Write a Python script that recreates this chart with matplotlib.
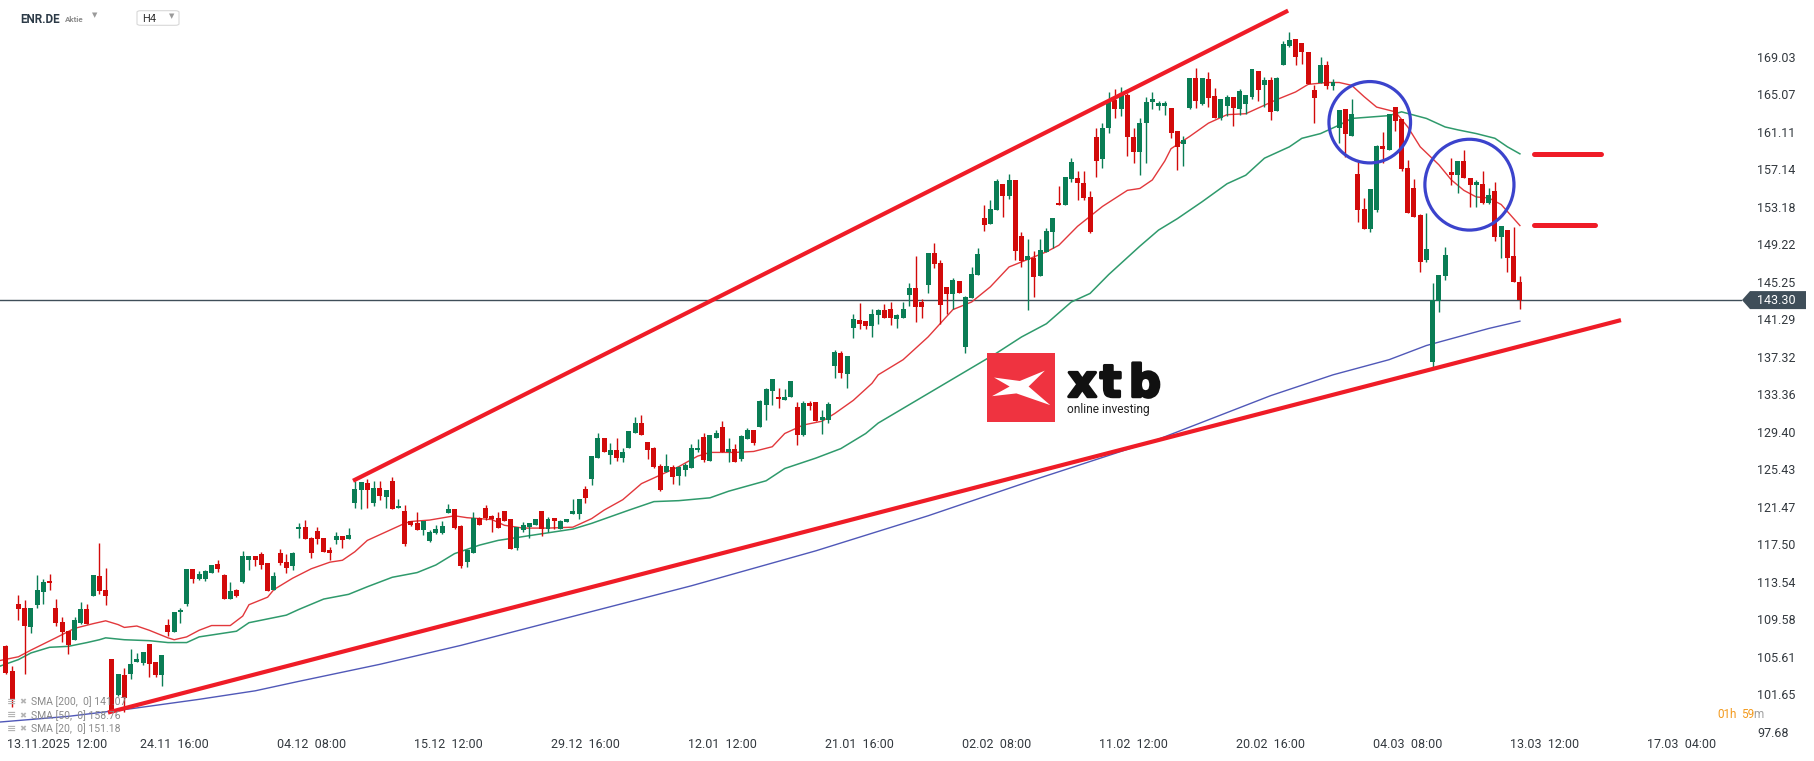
import numpy as np
import matplotlib.pyplot as plt
from matplotlib import transforms
from matplotlib import patheffects as pe
from matplotlib.patches import Ellipse, Polygon, FancyBboxPatch, Rectangle

plt.rcParams['font.family'] = ['Roboto', 'DejaVu Sans']

# --- chart data (ENR.DE, H4 candles) ---------------------------------------
opens = [
    106.7, 104.1, 111.2, 110.8, 108.7, 111.1, 112.4, 113.6, 110.8, 109.3,
    108.3, 107.4, 109.2, 110.6, 112.0, 114.1, 112.7, 105.4, 101.6, 103.7,
    103.8, 105.0, 104.9, 106.9, 105.0, 103.7, 109.0, 108.2, 110.3, 111.2,
    114.9, 113.8, 113.8, 114.5, 115.4, 114.2, 111.7, 112.7, 113.5, 115.8,
    116.3, 116.5, 115.5, 112.7, 116.6, 115.6, 115.2, 119.1, 119.3, 118.2,
    118.9, 118.2, 116.9, 117.9, 118.4, 118.0, 121.8, 123.2, 124.0, 121.9,
    123.4, 122.5, 124.2, 121.3, 121.0, 119.9, 119.7, 119.0, 117.8, 118.7,
    118.7, 120.8, 121.2, 119.4, 115.6, 116.6, 120.3, 121.3, 120.5, 120.3,
    121.0, 120.2, 117.1, 119.0, 119.3, 119.5, 121.0, 119.1, 120.3, 119.1,
    119.8, 120.7, 120.7, 123.3, 124.4, 126.6, 128.7, 126.9, 127.5, 126.6,
    127.7, 129.3, 130.3, 128.3, 127.7, 125.8, 125.1, 125.7, 124.7, 125.3,
    125.6, 127.5, 128.8, 126.3, 128.7, 129.9, 127.2, 127.6, 126.5, 128.6,
    129.6, 129.9, 132.2, 133.7, 133.1, 132.7, 133.1, 132.0, 129.0, 132.4,
    132.5, 130.6, 130.6, 136.3, 137.7, 135.5, 140.4, 141.2, 141.1, 140.6,
    141.7, 142.2, 142.4, 141.3, 141.4, 143.8, 144.6, 143.1, 144.9, 148.3,
    147.2, 144.7, 143.9, 145.3, 138.3, 143.5, 145.9, 152.0, 151.3, 152.8,
    155.6, 154.3, 156.0, 150.1, 147.5, 147.7, 145.8, 148.4, 150.5, 153.6,
    153.3, 156.1, 156.2, 155.7, 154.2, 160.5, 158.2, 161.5, 164.5, 163.5,
    165.0, 160.5, 159.0, 162.0, 164.2, 163.8, 163.8, 163.6, 161.2, 159.8,
    163.6, 166.8, 164.0, 166.7, 164.9, 162.6, 163.8, 164.8, 163.5, 164.0,
    164.8, 167.5, 166.0, 166.6, 163.3, 168.1, 170.2, 170.9, 170.5, 169.5,
    165.5, 166.2, 168.2, 165.9, 161.5, 163.5, 160.6, 156.6, 152.9, 150.8,
    152.8, 159.6, 159.2, 163.7, 162.4, 157.3, 155.1, 152.3, 147.5, 136.8,
    143.2, 145.8, 156.8, 156.5, 158.0, 156.2, 155.5, 155.6, 153.6, 154.8,
    150.0, 150.7, 148.0, 145.2,
]
highs = [
    106.8, 104.6, 112.1, 111.6, 110.8, 114.2, 113.8, 114.3, 111.7, 109.8,
    108.3, 109.8, 111.4, 111.2, 114.2, 117.6, 115.0, 105.4, 103.8, 104.4,
    106.4, 106.0, 106.1, 106.9, 105.0, 105.8, 109.6, 110.3, 110.8, 114.9,
    114.9, 114.7, 114.8, 115.3, 115.8, 114.3, 113.5, 112.8, 116.8, 116.3,
    116.3, 116.7, 115.5, 114.6, 117.0, 116.5, 116.7, 119.7, 120.1, 118.3,
    119.3, 118.2, 117.2, 118.8, 118.4, 119.2, 124.2, 124.1, 124.4, 124.2,
    124.2, 123.2, 124.6, 122.3, 121.6, 119.9, 120.9, 119.9, 119.0, 119.5,
    119.9, 121.7, 121.2, 119.5, 116.9, 120.9, 120.4, 121.6, 120.6, 120.9,
    121.0, 120.2, 119.3, 119.8, 119.7, 120.2, 121.0, 120.4, 120.3, 120.1,
    120.2, 122.3, 122.3, 123.6, 126.8, 129.2, 128.7, 128.2, 128.7, 127.7,
    129.5, 130.9, 131.2, 128.3, 127.8, 126.0, 127.0, 125.9, 125.8, 126.1,
    128.1, 128.6, 129.3, 129.0, 129.6, 130.5, 128.7, 128.1, 129.0, 129.8,
    129.6, 132.7, 134.0, 135.0, 134.0, 133.9, 134.7, 132.5, 132.6, 132.6,
    132.5, 131.7, 132.5, 138.0, 137.9, 137.4, 141.8, 143.0, 141.1, 142.4,
    142.4, 142.9, 143.1, 141.8, 143.1, 145.1, 148.0, 143.4, 148.3, 149.3,
    147.5, 144.7, 145.6, 145.3, 143.7, 146.8, 148.8, 153.4, 153.9, 156.1,
    155.6, 156.6, 156.0, 150.5, 149.8, 148.5, 149.8, 150.9, 152.0, 155.4,
    156.3, 158.3, 156.9, 156.9, 154.8, 161.5, 162.0, 165.3, 165.6, 165.8,
    165.2, 161.5, 162.5, 164.8, 165.3, 164.3, 164.3, 163.6, 161.2, 160.6,
    166.8, 167.8, 166.8, 167.4, 165.7, 164.6, 165.0, 164.8, 165.6, 165.0,
    167.7, 167.5, 166.9, 166.9, 166.9, 170.7, 171.6, 170.9, 170.5, 169.5,
    166.0, 169.0, 168.6, 166.7, 163.4, 163.5, 164.6, 157.9, 154.1, 155.0,
    159.7, 161.1, 163.0, 163.7, 162.4, 158.1, 156.1, 152.4, 152.5, 145.1,
    146.0, 148.9, 158.3, 158.0, 159.2, 156.2, 156.0, 156.9, 155.2, 155.8,
    151.1, 150.7, 151.0, 145.8,
]
lows = [
    103.8, 100.3, 109.5, 103.8, 108.1, 110.8, 111.2, 112.7, 108.9, 107.2,
    105.9, 107.4, 109.1, 109.1, 112.0, 112.2, 111.1, 99.8, 101.4, 99.8,
    103.3, 105.0, 104.7, 103.5, 103.5, 102.5, 107.8, 108.2, 109.2, 111.0,
    113.4, 113.7, 113.6, 114.5, 114.6, 111.7, 111.7, 111.9, 113.4, 114.8,
    115.2, 114.9, 112.6, 112.7, 115.3, 114.5, 114.8, 118.2, 118.0, 116.0,
    117.5, 116.7, 115.8, 117.5, 117.1, 118.0, 121.3, 121.2, 121.3, 121.5,
    122.2, 121.3, 121.2, 121.3, 117.3, 119.4, 119.0, 118.5, 117.7, 118.6,
    118.6, 120.8, 119.1, 115.0, 115.1, 116.6, 119.5, 120.1, 118.8, 119.2,
    120.0, 117.0, 116.9, 118.8, 118.2, 119.5, 118.4, 118.8, 119.1, 119.1,
    119.8, 120.7, 120.2, 121.9, 123.8, 126.6, 127.2, 126.0, 126.3, 126.2,
    127.7, 129.3, 129.0, 126.5, 125.6, 123.1, 125.1, 123.9, 123.8, 124.7,
    125.5, 127.2, 126.2, 126.3, 128.7, 127.2, 126.2, 126.2, 126.3, 128.6,
    128.0, 129.9, 130.6, 132.2, 131.9, 132.7, 133.1, 128.0, 128.9, 131.7,
    130.5, 129.1, 130.3, 135.1, 135.1, 134.0, 139.3, 140.2, 140.2, 139.4,
    140.8, 141.4, 140.7, 140.4, 141.4, 142.7, 141.0, 141.4, 144.0, 146.7,
    140.8, 141.8, 142.4, 144.1, 137.7, 143.5, 145.9, 150.6, 151.3, 152.8,
    152.1, 154.0, 147.5, 146.8, 142.2, 143.6, 145.8, 148.4, 148.8, 153.3,
    153.3, 155.8, 153.9, 153.9, 150.4, 156.3, 157.3, 161.0, 162.5, 162.8,
    158.5, 157.8, 156.5, 157.8, 163.5, 163.4, 162.9, 160.4, 157.1, 157.5,
    163.5, 163.6, 163.9, 163.7, 162.6, 162.3, 162.8, 161.7, 162.9, 163.0,
    164.6, 164.3, 163.7, 162.3, 163.3, 168.1, 170.0, 168.1, 168.3, 166.1,
    162.0, 166.2, 165.6, 165.5, 159.9, 158.4, 160.6, 151.6, 150.8, 150.5,
    152.6, 157.8, 159.2, 161.2, 156.9, 152.5, 152.1, 146.3, 147.3, 136.1,
    142.0, 145.4, 155.5, 154.6, 156.2, 153.1, 153.1, 153.5, 153.5, 149.5,
    147.7, 146.3, 145.2, 142.4,
]
closes = [
    103.9, 101.0, 110.6, 108.8, 110.8, 112.7, 113.5, 113.4, 109.2, 108.2,
    106.8, 109.5, 110.7, 109.1, 114.2, 112.6, 112.0, 99.9, 103.8, 101.2,
    104.8, 105.4, 106.1, 104.8, 103.7, 105.8, 108.2, 110.3, 110.5, 114.9,
    113.8, 114.3, 114.7, 115.3, 114.9, 111.7, 112.6, 112.0, 116.2, 116.2,
    115.8, 115.3, 112.6, 114.1, 115.5, 115.0, 116.6, 119.3, 118.1, 116.6,
    118.1, 116.7, 116.6, 118.4, 117.9, 118.5, 123.3, 124.1, 123.2, 123.4,
    122.6, 123.2, 121.2, 121.5, 117.5, 119.5, 119.0, 119.9, 118.8, 119.1,
    119.4, 121.2, 119.2, 115.2, 116.9, 120.3, 119.5, 120.3, 120.2, 119.2,
    120.0, 117.0, 119.3, 119.5, 119.7, 120.2, 119.1, 120.2, 120.0, 119.9,
    120.2, 121.0, 122.3, 122.4, 126.8, 128.7, 127.2, 127.5, 126.6, 127.2,
    129.5, 130.3, 129.0, 127.5, 125.7, 123.2, 125.8, 124.6, 125.7, 125.9,
    127.7, 127.7, 126.4, 129.0, 129.3, 127.2, 127.6, 126.2, 128.9, 129.6,
    128.2, 132.6, 133.9, 135.0, 132.8, 133.1, 134.7, 129.0, 132.4, 132.1,
    130.5, 130.9, 132.3, 137.8, 135.6, 137.4, 141.3, 140.8, 140.6, 141.8,
    142.3, 141.4, 141.4, 141.7, 142.4, 144.6, 142.6, 142.6, 148.3, 147.1,
    142.8, 143.9, 145.4, 144.1, 143.6, 146.1, 148.2, 151.2, 152.9, 155.9,
    154.3, 156.0, 148.5, 147.4, 148.0, 145.7, 148.6, 150.6, 152.0, 153.4,
    156.3, 157.9, 155.7, 154.1, 150.5, 158.0, 161.5, 164.5, 163.5, 165.0,
    160.5, 159.0, 162.0, 164.2, 164.6, 164.1, 164.1, 161.0, 159.5, 160.2,
    166.8, 164.3, 166.8, 164.7, 162.6, 164.6, 164.8, 163.6, 165.4, 165.0,
    167.7, 165.5, 166.6, 163.2, 166.8, 170.4, 170.8, 169.0, 169.5, 166.1,
    164.7, 168.2, 165.9, 166.4, 163.4, 160.9, 163.0, 152.8, 150.8, 155.0,
    159.6, 159.3, 163.0, 162.2, 157.2, 152.5, 152.1, 147.3, 148.7, 143.3,
    146.0, 148.1, 156.5, 158.0, 156.2, 155.5, 155.8, 153.6, 154.4, 150.0,
    151.1, 147.8, 145.2, 143.3,
]

# moving averages (candle index, value)
sma20_idx = [-1, 2, 4, 8, 11, 14, 16, 18, 19, 21, 23, 26, 27, 29, 31, 33, 36, 38, 39, 42,
             43, 46, 49, 52, 54, 56, 58, 61, 64, 65, 68, 72, 74, 78, 80, 83, 87, 91, 94, 96,
             99, 102, 105, 108, 111, 113, 117, 120, 123, 125, 128, 131, 133, 136, 139, 140,
             144, 148, 152, 155, 158, 161, 164, 167, 169, 172, 176, 180, 182, 184, 186, 187,
             190, 193, 196, 199, 201, 204, 207, 209, 212, 214, 216, 218, 220, 223, 225, 227,
             230, 232, 234, 236, 238, 240, 243]
sma20_val = [105.2, 105.6, 106.3, 107.6, 108.6, 109.1, 109.4, 109.0, 108.7, 108.85, 108.4,
             107.6, 107.4, 107.7, 108.4, 108.9, 108.9, 109.9, 111.1, 111.9, 112.7, 113.9,
             114.9, 115.6, 115.8, 116.7, 117.9, 118.8, 119.7, 119.9, 120.05, 120.5, 120.3,
             120.1, 119.5, 119.2, 119.2, 119.3, 120.2, 121.1, 122.2, 123.9, 124.8, 125.7,
             126.8, 127.2, 127.2, 127.3, 127.8, 129.2, 130.1, 130.5, 131.3, 132.7, 134.5,
             135.4, 137.0, 139.4, 142.3, 143.1, 144.7, 146.8, 147.6, 148.4, 149.1, 151.1,
             153.2, 154.9, 155.1, 156.0, 158.0, 159.3, 160.6, 162.0, 162.9, 163.0, 163.6,
             164.5, 165.3, 166.1, 166.3, 166.3, 166.0, 164.8, 163.7, 163.2, 161.6, 159.5,
             157.6, 156.0, 154.9, 154.2, 154.1, 153.4, 151.18]

sma50_idx = [-1, 2, 4, 7, 10, 13, 15, 16, 19, 23, 26, 29, 31, 34, 37, 39, 42, 45, 47, 51,
             55, 58, 62, 66, 69, 72, 76, 79, 83, 87, 91, 94, 100, 104, 108, 113, 116, 122,
             125, 130, 134, 138, 140, 159, 163, 167, 171, 174, 177, 182, 185, 188, 192, 196,
             199, 202, 206, 208, 211, 214, 216, 218, 222, 224, 228, 231, 233, 236, 239, 241,
             243]
sma50_val = [104.6, 105.3, 106.0, 106.6, 106.7, 107.1, 107.4, 107.6, 107.4, 107.3, 107.1,
             107.1, 107.7, 108.0, 108.3, 109.2, 109.6, 110.0, 110.6, 111.7, 112.2, 113.0,
             114.0, 114.5, 115.3, 116.5, 117.4, 117.9, 118.3, 118.7, 119.1, 119.7, 121.1,
             122.0, 122.1, 122.4, 123.1, 124.2, 125.5, 126.6, 127.6, 129.2, 130.3, 137.7,
             139.4, 140.8, 143.1, 144.0, 146.0, 149.0, 150.7, 151.9, 153.7, 155.6, 156.5,
             158.3, 159.5, 160.4, 160.9, 161.8, 162.5, 162.6, 162.8, 163.2, 162.5, 161.6,
             161.3, 160.9, 160.4, 159.5, 158.76]

sma200_idx = [-1, 10, 20, 31, 40, 47, 60, 73, 90, 110, 130, 148, 165, 185, 203, 213, 222,
              228, 233, 238, 243]
sma200_val = [98.7, 99.3, 100.1, 101.1, 102.0, 103.0, 104.8, 106.8, 109.7, 113.1, 116.8,
              120.5, 124.3, 128.6, 133.2, 135.4, 137.0, 138.5, 139.4, 140.3, 141.07]

# drawn trend lines / levels
upper_line_idx = [56.0, 205.5]
upper_line_val = [124.3, 173.8]
lower_line_idx = [16.7, 258.9]
lower_line_val = [99.76, 141.13]
level_idx = [[245.3, 256.0], [245.3, 255.1]]
level_val = [158.7, 151.2]
circle_centers = [(218.9, 162.1), (234.9, 155.5)]
circle_sizes = [(13.1, 8.6), (14.3, 9.6)]

current_price = 143.30
ytick_vals = [169.03, 165.07, 161.11, 157.14, 153.18, 149.22, 145.25, 141.29, 137.32, 133.36,
              129.40, 125.43, 121.47, 117.50, 113.54, 109.58, 105.61, 101.65, 97.68]
xtick_idx = [5, 27, 49, 71, 93, 115, 137, 159, 181, 203, 225, 247, 269]
xtick_lbl = ['13.11.2025  12:00', '24.11  16:00', '04.12  08:00', '15.12  12:00',
             '29.12  16:00', '12.01  12:00', '21.01  16:00', '02.02  08:00', '11.02  12:00',
             '20.02  16:00', '04.03  08:00', '13.03  12:00', '17.03  04:00']
sma_legend = ['SMA [200,  0] 141.07', 'SMA [50,  0] 158.76', 'SMA [20,  0] 151.18']

GREEN = '#0a7d55'
RED = '#d20a0a'
LINE_RED = '#ef1c27'
TEXT = '#33393f'

W, H = 1815, 761


def fx(x):
    return x / W


def fy(y):
    return 1 - y / H


fig = plt.figure(figsize=(W / 100, H / 100), dpi=100)
ax = fig.add_axes([0, fy(735), fx(1742), 1 - fy(735)])
ax.set_xlim(-0.96, 278.65)
ax.set_ylim(97.33, 175.02)
for s in ax.spines.values():
    s.set_visible(False)

# moving averages
ax.plot(sma200_idx, sma200_val, color='#5058b8', lw=1.0, zorder=2)
ax.plot(sma50_idx, sma50_val, color='#2f9a6c', lw=1.1, zorder=2)
ax.plot(sma20_idx, sma20_val, color='#e2383c', lw=1.0, zorder=2)

# candles
o = np.array(opens)
h = np.array(highs)
l = np.array(lows)
c = np.array(closes)
idx = np.arange(len(c))
cols = np.where(c >= o, GREEN, RED)
ax.vlines(idx, l, h, colors=cols, lw=1.0, zorder=3)
body_lo = np.minimum(o, c)
body_h = np.maximum(np.abs(c - o), 0.12)
ax.bar(idx, body_h, bottom=body_lo, width=0.8, color=cols, linewidth=0, zorder=4)

# trend lines, levels, circles
ax.plot(upper_line_idx, upper_line_val, color=LINE_RED, lw=3.0, zorder=5)
ax.plot(lower_line_idx, lower_line_val, color=LINE_RED, lw=3.0, zorder=5)
for xs, v in zip(level_idx, level_val):
    ax.plot(xs, [v, v], color=LINE_RED, lw=3.6, solid_capstyle='round', zorder=5)
for (cx, cy), (w, hh) in zip(circle_centers, circle_sizes):
    ax.add_patch(Ellipse((cx, cy), w, hh, fill=False, ec='#3b43cc', lw=2.3, zorder=6))

ax.axhline(current_price, color='#3f4e59', lw=1.0, zorder=1)

# axes ticks
ax.yaxis.tick_right()
ax.set_yticks(ytick_vals)
ax.set_yticklabels([f'{v:.2f}' for v in ytick_vals])
ax.tick_params(axis='y', length=0, pad=11, labelsize=9, labelcolor=TEXT)
ax.set_xticks([])
for i, (t, lbl) in enumerate(zip(xtick_idx, xtick_lbl)):
    ax.annotate(lbl, xy=(t, 0), xycoords=('data', 'axes fraction'),
                xytext=(-21.6 if i == 0 else 0, -7), textcoords='offset points',
                ha='left' if i == 0 else 'center', va='center', fontsize=9, color=TEXT,
                annotation_clip=False)

# current price tag
tr = transforms.blended_transform_factory(fig.transFigure, ax.transData)
dh = 9 / 9.46
ax.add_artist(Polygon([(fx(1742), current_price), (fx(1750), current_price + dh),
                       (fx(1806), current_price + dh), (fx(1806), current_price - dh),
                       (fx(1750), current_price - dh)],
                      closed=True, fc='#3f4e59', ec='none', transform=tr, clip_on=False))
ax.text(fx(1757), current_price, f'{current_price:.2f}', transform=tr, color='white',
        fontsize=9, va='center', ha='left', clip_on=False)

# header
fig.text(fx(20), fy(19.5), 'ENR.DE', fontsize=8.4, weight='bold', color='#2c3a47', va='center')
fig.text(fx(65), fy(20), 'Aktie', fontsize=5.8, weight='bold', color='#8c8c8c', va='center')
fig.text(fx(95), fy(15.5), '▼', fontsize=5, color='#9a9a9a', va='center', ha='center',
         family=['DejaVu Sans'])
fig.add_artist(FancyBboxPatch((fx(137), fy(25.3)), fx(42), 14.6 / H,
                              boxstyle='round,pad=0,rounding_size=0.002',
                              fc='white', ec='#d8d8d8', lw=0.8, transform=fig.transFigure))
fig.text(fx(142), fy(19.5), 'H4', fontsize=8, color='#333', va='center')
fig.text(fx(171.5), fy(16.5), '▼', fontsize=5, color='#9a9a9a', va='center', ha='center',
         family=['DejaVu Sans'])

# SMA legend
for k, s in enumerate(sma_legend):
    yy = 701.7 + k * 13.6
    fig.text(fx(6.5), fy(yy), '≡', fontsize=8, color='#b4b4b4', va='center',
             family=['DejaVu Sans'], weight='bold')
    fig.text(fx(19.5), fy(yy), '✖', fontsize=6, color='#b4b4b4', va='center',
             family=['DejaVu Sans'])
    fig.text(fx(31), fy(yy), s, fontsize=7.5, color='#8a8a8a', va='center')

# candle countdown
ty = 714
fig.text(fx(1717), fy(ty), '01', fontsize=8.5, color='#f39a1e', va='center')
fig.text(fx(1729.5), fy(ty), 'h', fontsize=8.5, color='#f39a1e', va='center')
fig.text(fx(1741), fy(ty), '59', fontsize=8.5, color='#f39a1e', va='center')
fig.text(fx(1753.5), fy(ty), 'm', fontsize=8.5, color='#a0a0a0', va='center')

# xtb logo
lax = fig.add_axes([fx(987.3), fy(421.7), fx(67.7), 69 / H])
lax.set_xlim(0, 1)
lax.set_ylim(0, 1)
lax.axis('off')
lax.add_patch(Rectangle((0, 0), 1, 1, fc='#ef3340', ec='none'))
lax.add_patch(Polygon([(0.10, 0.64), (0.48, 0.59), (0.85, 0.74), (0.61, 0.51),
                       (0.93, 0.24), (0.43, 0.41), (0.07, 0.37), (0.33, 0.51)],
                      closed=True, fc='white', ec='none'))
bold = [pe.withStroke(linewidth=2.2, foreground='#111')]
for ch, xl in zip('xtb', [1068, 1100, 1129]):
    fig.text(fx(xl), fy(396.7), ch, fontsize=32, weight='bold', color='#111',
             va='baseline', family=['DejaVu Sans'], path_effects=bold)
fig.text(fx(1067), fy(413.5), 'online investing', fontsize=8.6, color='#222',
         va='baseline')

fig.savefig('out.png', dpi=100, facecolor='white')
